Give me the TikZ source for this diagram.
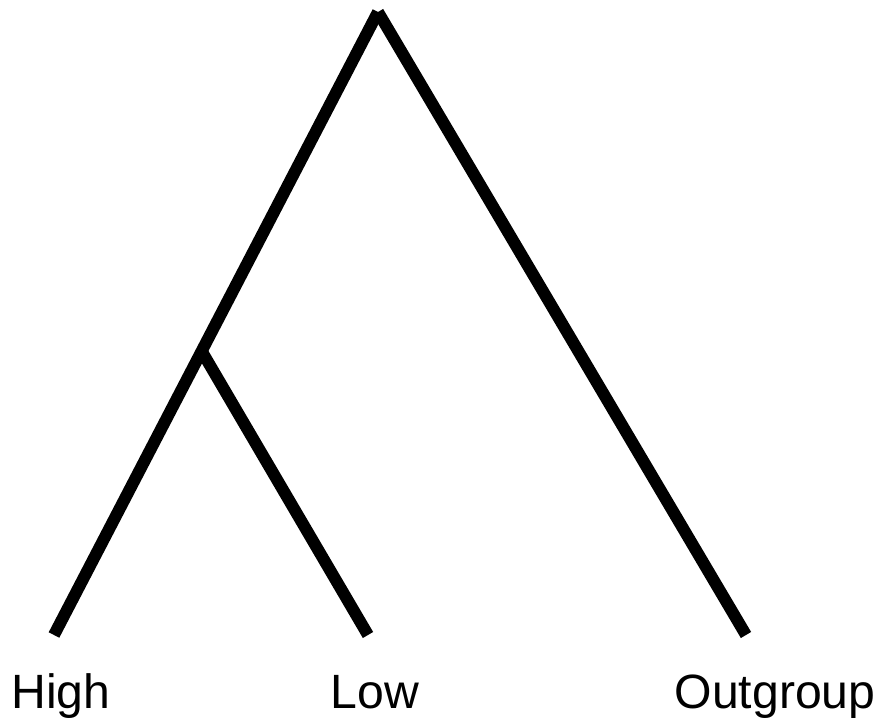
\documentclass[tikz,border=0pt]{standalone}
\usepackage{fontspec}
\setmainfont{Liberation Sans}
\usepackage{tikz}
\tikzstyle{branch} = [draw, line width=6.8pt]
\tikzstyle{leaflabel} = [anchor=base, inner sep=0pt, font=\fontsize{27.4}{30}\selectfont]

\begin{document}
\begin{tikzpicture}[x=0.02cm, y=-0.02cm]
    \useasboundingbox (0, 0) rectangle (880, 723);
    % tree points
    \coordinate (root) at (378, 12);
    \coordinate (split) at (201, 350);
    \coordinate (highend) at (54, 635);
    \coordinate (lowend) at (368, 635);
    \coordinate (outend) at (746, 635);

    % branches
    \path[branch] (root) -- (highend);
    \path[branch] (root) -- (outend);
    \path[branch] (split) -- (lowend);

    % labels
    \node[leaflabel] at (61, 708) (high) {High};
    \node[leaflabel] at (375, 708) (low) {Low};
    \node[leaflabel] at (775, 708) (outgroup) {Outgroup};
\end{tikzpicture}
\end{document}
